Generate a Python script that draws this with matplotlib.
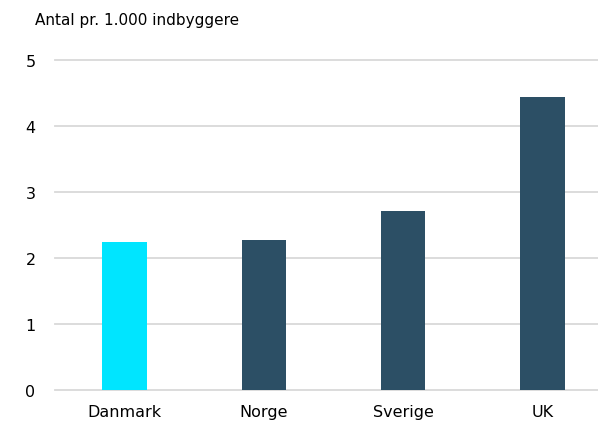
import matplotlib.pyplot as plt

countries = ["Danmark", "Norge", "Sverige", "UK"]
values = [2.24, 2.27, 2.71, 4.44]
colors = ["#00E5FF", "#2C4F65", "#2C4F65", "#2C4F65"]
yticks = [0, 1, 2, 3, 4, 5]

fig = plt.figure(figsize=(5.98, 4.27), dpi=100)
ax = fig.add_axes([55 / 598, 36 / 427, 1 - 55 / 598, 330 / 427])

ax.bar(range(len(countries)), values, width=0.32, color=colors, zorder=3)

ax.set_xlim(-0.5, 3.4)
ax.set_ylim(0, 5)
ax.set_yticks(yticks)
ax.set_xticks(range(len(countries)))
ax.set_xticklabels(countries)
ax.grid(axis="y", color="#D9D9D9", linewidth=1.3, zorder=0)
for gl in ax.get_ygridlines():
    gl.set_clip_on(False)
for s in ax.spines.values():
    s.set_visible(False)
ax.tick_params(length=0, labelsize=11.5, colors="#000000")
ax.tick_params(axis="y", pad=14)
ax.tick_params(axis="x", pad=10)

fig.text(35 / 598, 1 - 20 / 427, "Antal pr. 1.000 indbyggere", fontsize=11,
         va="center", ha="left")

fig.savefig("out.png", dpi=100)
